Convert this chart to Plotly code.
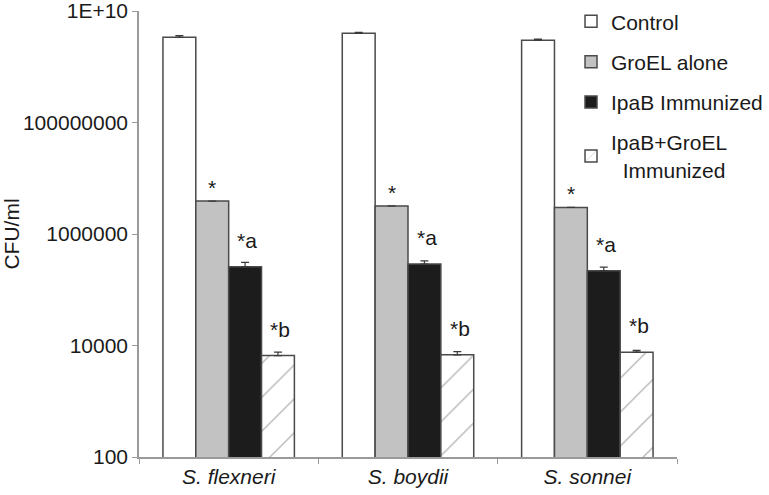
import math
import plotly.graph_objects as go

categories = ["<i>S. flexneri</i>", "<i>S. boydii</i>", "<i>S. sonnei</i>"]
series_names = ["Control", "GroEL alone", "IpaB Immunized", "IpaB+GroEL<br>&nbsp;&nbsp;Immunized"]
control = [3.4e9, 4.0e9, 3.0e9]
groel = [3.9e6, 3.2e6, 3.0e6]
ipab = [2.6e5, 2.9e5, 2.2e5]
ipab_groel = [6.6e3, 6.8e3, 7.6e3]
control_err = [2.5e8, 1.5e8, 1.5e8]
groel_err = [0, 0, 0]
ipab_err = [5e4, 4e4, 3.5e4]
ipab_groel_err = [1.0e3, 1.0e3, 6e2]
sig_labels = ["", "*", "*a", "*b"]
ytick_vals = [100, 1e4, 1e6, 1e8, 1e10]
ytick_text = ["100", "10000", "1000000", "100000000", "1E+10"]

FONT = "Liberation Sans, Arial, sans-serif"
EDGE = "#4a4a4a"
fills = ["#ffffff", "#c2c2c2", "#1c1c1c", "#ffffff"]
values = [control, groel, ipab, ipab_groel]
errors = [control_err, groel_err, ipab_err, ipab_groel_err]

fig = go.Figure()
for i, (name, vals, errs, fill) in enumerate(zip(series_names, values, errors, fills)):
    marker = dict(color=fill, line=dict(color=EDGE, width=1.5))
    if i == 3:
        marker["pattern"] = dict(shape="/", fgcolor="#4a4a4a", bgcolor="#ffffff",
                                 size=24, solidity=0.05)
    fig.add_trace(go.Bar(
        x=categories, y=vals, name=name, marker=marker,
        legendgroup=f"g{i}",
        error_y=dict(type="data", array=errs, arrayminus=[0] * len(errs),
                     symmetric=False, color="#3a3a3a", thickness=1.2, width=4,
                     visible=True),
    ))

# significance annotations (log axis -> annotation y in log10 units)
n = len(series_names)
for i in range(1, n):
    for j, cat in enumerate(categories):
        fig.add_annotation(
            x=cat, y=math.log10(values[i][j]), yref="y", xref="x",
            text=sig_labels[i], showarrow=False,
            xshift=(i - (n - 1) / 2) * 33 + (2 if i > 1 else 0),
            yanchor="bottom", yshift=(0 if i == 1 else 13),
            font=dict(family=FONT, size=21, color="#1a1a1a"),
        )

fig.update_layout(
    width=769, height=495,
    margin=dict(l=139, r=92, t=11, b=38, autoexpand=False),
    paper_bgcolor="white", plot_bgcolor="white",
    barmode="group", bargap=0.267, bargroupgap=0,
    font=dict(family=FONT, size=21, color="#1a1a1a"),
    showlegend=True,
    legend=dict(x=0.803, y=1.022, xanchor="left", yanchor="top",
                bgcolor="rgba(0,0,0,0)", tracegroupgap=10,
                font=dict(family=FONT, size=21, color="#1a1a1a"),
                itemwidth=30),
)
fig.update_yaxes(
    type="log", range=[2, 10.002],
    tickvals=ytick_vals, ticktext=ytick_text,
    showgrid=False, zeroline=False,
    showline=True, linecolor="#9a9a9a", linewidth=1.5,
    ticks="outside", ticklen=5, tickcolor="#9a9a9a",
    ticklabeloverflow="allow",
    title=dict(text="CFU/ml", standoff=12, font=dict(size=21)),
    tickfont=dict(size=21),
)
fig.update_xaxes(
    showgrid=False, showline=True, linecolor="#9a9a9a", linewidth=1.5,
    ticks="outside", tickson="boundaries", ticklen=5, tickcolor="#9a9a9a",
    tickfont=dict(size=21),
)

fig.write_html("out.html", config={"displayModeBar": False},
               post_script="document.body.style.margin='0';")
